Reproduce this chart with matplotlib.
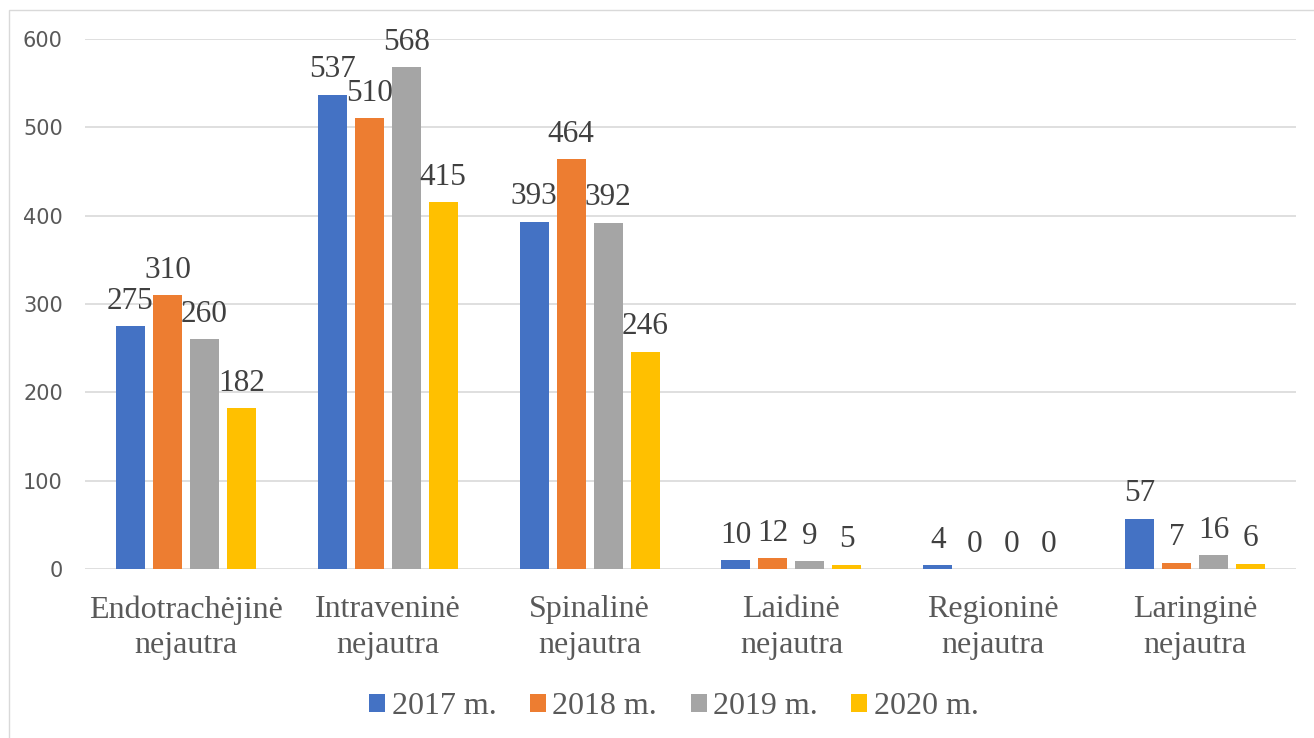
import matplotlib
matplotlib.use("Agg")
import matplotlib.pyplot as plt
from matplotlib.patches import Rectangle
import numpy as np

categories = ["Endotrachėjinė\nnejautra", "Intraveninė\nnejautra", "Spinalinė\nnejautra",
              "Laidinė\nnejautra", "Regioninė\nnejautra", "Laringinė\nnejautra"]
series_names = ["2017 m.", "2018 m.", "2019 m.", "2020 m."]
v2017 = [275, 537, 393, 10, 4, 57]
v2018 = [310, 510, 464, 12, 0, 7]
v2019 = [260, 568, 392, 9, 0, 16]
v2020 = [182, 415, 246, 5, 0, 6]
colors = ["#4472C4", "#ED7D31", "#A5A5A5", "#FFC000"]
yticks = [0, 100, 200, 300, 400, 500, 600]

W, H = 1314, 738
fig = plt.figure(figsize=(W / 100, H / 100), dpi=100)
fig.patch.set_facecolor("white")

# chart area border
fig.add_artist(Rectangle((9 / W, -0.1), 2, 1.1 - 10 / H, transform=fig.transFigure,
                         fill=False, edgecolor="#d9d9d9", linewidth=1.0))

ax = fig.add_axes([85 / W, 1 - 569 / H, (1296 - 85) / W, (569 - 39) / H])
serif = ["Liberation Serif", "DejaVu Serif"]
text_col = "#595959"

x = np.arange(len(categories))
bw = 0.144
step = 0.1834
data = [v2017, v2018, v2019, v2020]
for i, (vals, c, name) in enumerate(zip(data, colors, series_names)):
    pos = x + (i - 1.5) * step
    ax.bar(pos, vals, width=bw, color=c, label=name, zorder=3)
    for px, v in zip(pos, vals):
        ax.annotate(str(v), (px, v), xytext=(0, 12.5), textcoords="offset points",
                    ha="center", va="baseline", fontsize=22.5, family=serif,
                    color="#404040", zorder=4)

ax.set_xlim(-0.5, len(categories) - 0.5)
ax.set_ylim(0, 600)
ax.set_yticks(yticks)
ax.set_xticks(x)
ax.set_xticklabels(categories, family=serif, fontsize=23, color=text_col, linespacing=1.3)
for lab in ax.get_yticklabels():
    lab.set_family("DejaVu Sans")
    lab.set_fontsize(15)
    lab.set_color(text_col)
ax.tick_params(axis="y", length=0, pad=16)
ax.tick_params(axis="x", length=0, pad=19)
ax.yaxis.grid(True, color="#d9d9d9", linewidth=1.2, zorder=0)
ax.set_axisbelow(True)
for s in ax.spines.values():
    s.set_visible(False)

leg = fig.legend(loc="center", bbox_to_anchor=(674 / W, 1 - 707 / H), ncol=4, frameon=False,
                 prop={"family": serif, "size": 23}, handlelength=0.5, handleheight=0.5,
                 handletextpad=0.2, columnspacing=1.05, borderaxespad=0)
for t in leg.get_texts():
    t.set_color(text_col)

fig.savefig("out.png", dpi=100, facecolor="white")
